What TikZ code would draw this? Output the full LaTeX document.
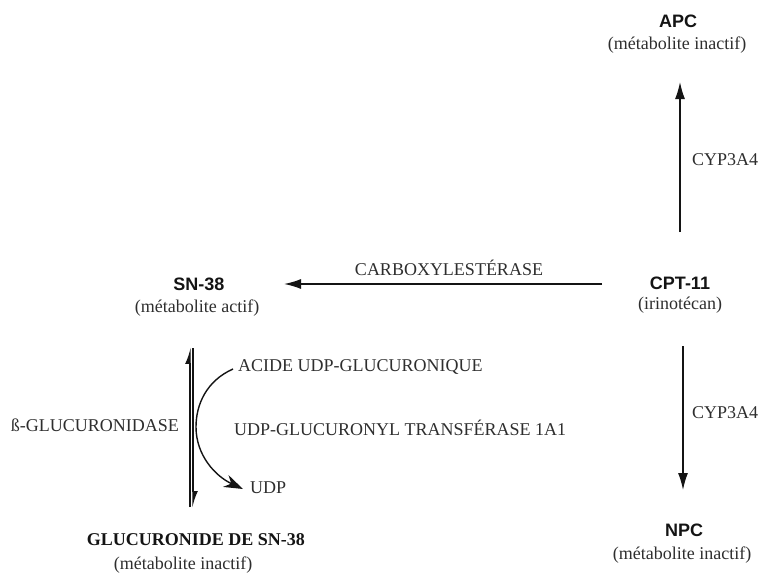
\documentclass[tikz,border=0pt]{standalone}
\usepackage{fontspec}
\setmainfont{Liberation Serif}
\newfontfamily\sansb{Liberation Sans}
\usetikzlibrary{arrows.meta}
\definecolor{txt}{HTML}{2E2E2E}
\definecolor{ink}{HTML}{141414}
\begin{document}
\begin{tikzpicture}[x=1pt,y=-1pt,
  lab/.style={inner sep=0pt,text=ink,font=\sansb\bfseries\fontsize{18}{21}\selectfont},
  sub/.style={inner sep=0pt,text=txt,font=\fontsize{18}{21}\selectfont},
  bsub/.style={inner sep=0pt,text=ink,font=\bfseries\fontsize{18}{21}\selectfont},
  arr/.style={draw=ink,line width=1.4pt,-{Latex[length=17pt,width=10pt]}},
  harp/.style={draw=ink,line width=1.4pt,-{Latex[left,length=14pt,width=10pt]}},
  curv/.style={draw=ink,line width=1.4pt,-{Stealth[length=19pt,width=13pt]}}]
\useasboundingbox (0,0) rectangle (763,573);
% main nodes
\node[lab] (apc) at (678,21) {APC};
\node[sub] (apcs) at (677,45) {(métabolite inactif)};
\node[lab] (cpt) at (680,283) {CPT-11};
\node[sub] (cpts) at (680,305) {(irinotécan)};
\node[lab] (sn) at (199,284) {SN-38};
\node[sub] (sns) at (197,308) {(métabolite actif)};
\node[lab] (npc) at (684,530) {NPC};
\node[sub] (npcs) at (682,555) {(métabolite inactif)};
\node[bsub] (glu) at (196,540) {GLUCURONIDE DE SN-38};
\node[sub] (glus) at (183,565) {(métabolite inactif)};
% labels
\node[sub] (cyp1) at (692,160) [anchor=west] {CYP3A4};
\node[sub] (cyp2) at (692,413) [anchor=west] {CYP3A4};
\node[sub] (carb) at (449,268) {CARBOXYLESTÉRASE};
\node[sub] (bglu) at (179,425) [anchor=east] {ß-GLUCURONIDASE};
\node[sub] (acid) at (238,367) [anchor=west] {ACIDE UDP-GLUCURONIQUE};
\node[sub] (ugt) at (234,428) [anchor=west] {UDP-GLUCURONYL TRANSFÉRASE 1A1};
\node[sub] (udp) at (250,488) [anchor=west] {UDP};
% connector endpoints
\coordinate (a1) at (680,232);
\coordinate (a2) at (680,82);
\coordinate (h1) at (602,284);
\coordinate (h2) at (284,284);
\coordinate (d1) at (683,346);
\coordinate (d2) at (683,490);
\coordinate (u1) at (190,507);
\coordinate (u2) at (190,347);
\coordinate (v1) at (193,348);
\coordinate (v2) at (193,508);
\coordinate (c1) at (233,369);
\coordinate (cm) at (196,427);
\coordinate (c2) at (243,489);
% connectors
\draw[arr] (a1) -- (a2);
\draw[arr] (h1) -- (h2);
\draw[arr] (d1) -- (d2);
\draw[harp] (u1) -- (u2);
\draw[harp] (v1) -- (v2);
\draw[curv] (c1) .. controls (206,381) and (196,405) .. (cm) .. controls (196,455) and (215,476) .. (c2);
\end{tikzpicture}
\end{document}
